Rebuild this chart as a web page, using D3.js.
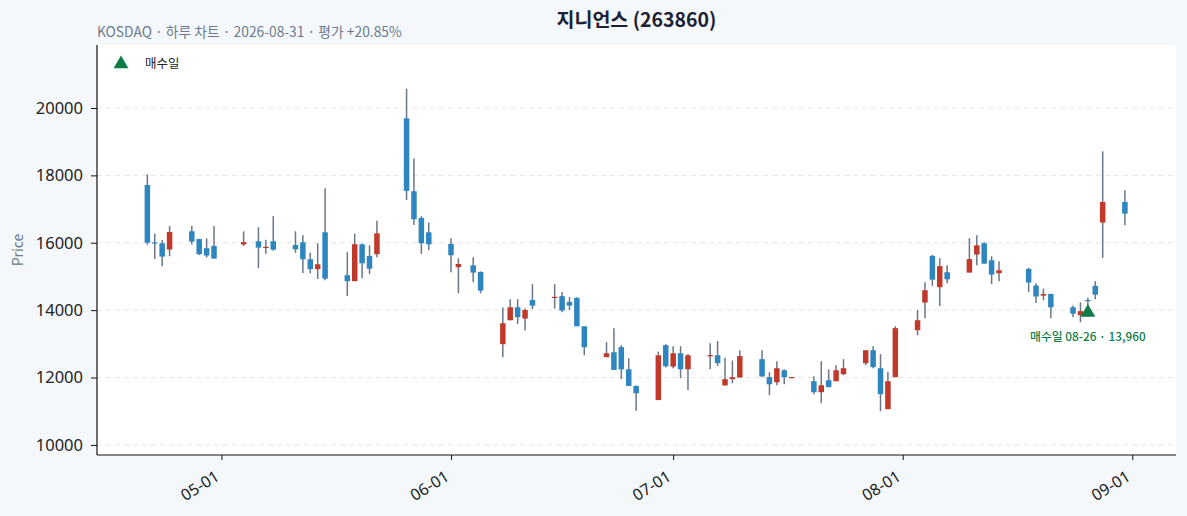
<!DOCTYPE html>
<html>
<head>
<meta charset="utf-8">
<script src="https://cdn.jsdelivr.net/npm/d3@7"></script>
<style>
  html, body { margin: 0; padding: 0; background: #f5f8fb; }
  svg { display: block; font-family: "Noto Sans CJK KR", "Noto Sans", sans-serif; }
</style>
</head>
<body>
<svg id="chart" width="1187" height="516"></svg>
<script>
// daily candles, KOSDAQ 263860
const dates = [
  "2026-04-21","2026-04-22","2026-04-23","2026-04-24","2026-04-27","2026-04-28","2026-04-29","2026-04-30",
  "2026-05-04","2026-05-06","2026-05-07","2026-05-08","2026-05-11","2026-05-12","2026-05-13","2026-05-14",
  "2026-05-15","2026-05-18","2026-05-19","2026-05-20","2026-05-21","2026-05-22","2026-05-26","2026-05-27",
  "2026-05-28","2026-05-29","2026-06-01","2026-06-02","2026-06-04","2026-06-05","2026-06-08","2026-06-09",
  "2026-06-10","2026-06-11","2026-06-12","2026-06-15","2026-06-16","2026-06-17","2026-06-18","2026-06-19",
  "2026-06-22","2026-06-23","2026-06-24","2026-06-25","2026-06-26","2026-06-29","2026-06-30","2026-07-01",
  "2026-07-02","2026-07-03","2026-07-06","2026-07-07","2026-07-08","2026-07-09","2026-07-10","2026-07-13",
  "2026-07-14","2026-07-15","2026-07-16","2026-07-17","2026-07-20","2026-07-21","2026-07-22","2026-07-23",
  "2026-07-24","2026-07-27","2026-07-28","2026-07-29","2026-07-30","2026-07-31","2026-08-03","2026-08-04",
  "2026-08-05","2026-08-06","2026-08-07","2026-08-10","2026-08-11","2026-08-12","2026-08-13","2026-08-14",
  "2026-08-18","2026-08-19","2026-08-20","2026-08-21","2026-08-24","2026-08-25","2026-08-26","2026-08-27",
  "2026-08-28","2026-08-31"
];
const open = [
  17715,16010,15985,15800,16340,16110,15840,15905, 15950,16045,15870,16045,15935,16015,15510,15215,
  16310,15035,14860,15955,15610,15660,19694,17530, 16735,16310,15965,15275,15330,15135,12990,13700,
  14085,13750,14300,14380,14415,14245,14365,13520, 12605,12750,12900,12245,11750,11330,12960,12325,
  12720,12245,12655,12660,11765,11950,12000,12545, 12010,11860,12215,12005,11890,11565,11920,11890,
  12100,12425,12810,12275,11060,12010,13405,14225, 15610,14680,15125,15115,15650,15985,15480,15095,
  15225,14730,14430,14480,14085,13850,14300,14720, 16600,17210
];
const high = [
  18030,16270,16080,16500,16500,16120,16130,16500, 16340,16460,16090,16790,16340,16220,15710,15985,
  17620,15720,16270,15975,15925,16655,20575,18500, 16790,16600,16135,15540,15570,15150,14075,14325,
  14325,14045,14770,14770,14535,14385,14385,13520, 13050,13465,12960,12575,11760,12770,12990,12930,
  12930,12700,13020,13080,12590,12505,12810,12810, 12155,12485,12245,12020,12040,12485,12245,12365,
  12545,12815,12930,12695,12160,13525,14000,14830, 15640,15540,15330,16135,16220,16015,15600,15450,
  15250,14800,14640,14490,14135,14235,14370,14860, 18715,17560
];
const low = [
  15940,15520,15300,15600,15945,15640,15560,15530, 15905,15245,15670,15765,15700,15100,15095,14925,
  14885,14420,14860,14945,15075,15570,17270,16530, 15670,15780,15125,14500,14830,14500,12600,13700,
  13590,13395,14030,14045,13940,14005,13520,12660, 12600,12220,11960,11750,11010,11330,12300,12275,
  11980,11630,12245,12345,11760,11830,12000,12025, 11475,11770,11800,12000,11505,11240,11715,11890,
  12070,12365,12275,11000,11060,12010,13255,13760, 14720,14125,14800,15115,15330,15380,14770,14860,
  14535,14210,14295,13760,13790,13640,13960,14325, 15550,16520
];
const close = [
  16000,15990,15590,16320,16035,15660,15620,15530, 16020,15855,15880,15795,15805,15510,15215,15360,
  14935,14860,15955,15390,15230,16280,17540,16700, 15985,15955,15630,15370,15115,14580,13610,14085,
  13790,14005,14135,14395,13990,14135,13520,12900, 12720,12225,12245,11750,11535,12660,12335,12720,
  12245,12660,12665,12425,11950,12010,12635,12030, 11800,12275,12010,12015,11565,11770,11715,12215,
  12275,12810,12310,11505,11890,13465,13700,14590, 14905,15305,14915,15515,15925,15380,15055,15185,
  14820,14405,14480,14085,13895,13970,14290,14460, 17210,16865
];
const yTicks = [10000, 12000, 14000, 16000, 18000, 20000];
const xTickDates = ["2026-05-01", "2026-06-01", "2026-07-01", "2026-08-01", "2026-09-01"];
const buyDate = "2026-08-26";
const buyPrice = 13960;

const parse = d3.timeParse("%Y-%m-%d");
const candles = dates.map((d, i) => ({
  date: parse(d), o: open[i], h: high[i], l: low[i], c: close[i]
}));

const W = 1187, H = 516;
const m = { top: 45, right: 11, bottom: 61, left: 97 };
const svg = d3.select("#chart");

const day = 864e5;
const first = candles[0].date, last = candles[candles.length - 1].date;
const x = d3.scaleTime()
  .domain([new Date(+first - 6.8 * day), new Date(+last + 6.9 * day)])
  .range([m.left, W - m.right]);
const y = d3.scaleLinear()
  .domain([9700, 21870])
  .range([H - m.bottom, m.top]);

// plot background
svg.append("rect")
  .attr("x", m.left).attr("y", m.top)
  .attr("width", W - m.left - m.right).attr("height", H - m.top - m.bottom)
  .attr("fill", "#fff");

// grid
svg.append("g").selectAll("line")
  .data(yTicks).join("line")
  .attr("x1", m.left).attr("x2", W - m.right)
  .attr("y1", d => y(d)).attr("y2", d => y(d))
  .attr("stroke", "#e6e6e6").attr("stroke-dasharray", "5,4").attr("stroke-width", 1);

// axes
const tickFont = '"Noto Sans", "Noto Sans CJK KR", sans-serif';
const yAxis = svg.append("g")
  .attr("transform", `translate(${m.left},0)`)
  .call(d3.axisLeft(y).tickValues(yTicks).tickFormat(d3.format("d")).tickSize(6).tickPadding(8));
const xAxis = svg.append("g")
  .attr("transform", `translate(0,${H - m.bottom})`)
  .call(d3.axisBottom(x).tickValues(xTickDates.map(parse)).tickFormat(d3.timeFormat("%m-%d")).tickSize(5).tickPadding(4));
yAxis.attr("font-family", tickFont).attr("font-size", null);
xAxis.attr("font-family", tickFont).attr("font-size", null);
yAxis.select(".domain").remove();
xAxis.select(".domain").remove();
svg.append("line")
  .attr("x1", m.left).attr("x2", m.left).attr("y1", m.top).attr("y2", H - m.bottom)
  .attr("stroke", "#111").attr("stroke-width", 1.2);
svg.append("line")
  .attr("x1", m.left).attr("x2", W - m.right).attr("y1", H - m.bottom).attr("y2", H - m.bottom)
  .attr("stroke", "#111").attr("stroke-width", 1.2);
svg.selectAll(".tick line").attr("stroke", "#111");
yAxis.selectAll("text").attr("font-size", 16.5).attr("fill", "#222");
xAxis.selectAll("text")
  .attr("font-size", 16).attr("fill", "#222")
  .attr("text-anchor", "end")
  .attr("transform", "rotate(-32)")
  .attr("dx", -14).attr("dy", 11);

// candles
const bw = 5.5;
const g = svg.append("g");
g.selectAll("line.wick")
  .data(candles).join("line").attr("class", "wick")
  .attr("x1", d => x(d.date)).attr("x2", d => x(d.date))
  .attr("y1", d => y(d.h)).attr("y2", d => y(d.l))
  .attr("stroke", "#6b7787").attr("stroke-width", 1.5);
g.selectAll("rect.body")
  .data(candles).join("rect").attr("class", "body")
  .attr("x", d => x(d.date) - bw / 2)
  .attr("width", bw)
  .attr("y", d => y(Math.max(d.o, d.c)))
  .attr("height", d => Math.max(1.2, Math.abs(y(d.o) - y(d.c))))
  .attr("fill", d => d.c >= d.o ? "#c0392b" : "#2e86c1");

// buy marker
const tri = d3.symbol().type(d3.symbolTriangle).size(95);
const bx = x(parse(buyDate)), by = y(buyPrice);
svg.append("path").attr("d", tri()).attr("transform", `translate(${bx},${by + 1})`).attr("fill", "#0e7c46");
svg.append("text")
  .attr("x", bx).attr("y", by + 30)
  .attr("text-anchor", "middle").attr("font-size", 11.8).attr("font-weight", 500)
  .attr("fill", "#0e7c46")
  .text(`매수일 08-26 · ${d3.format(",")(buyPrice)}`);

// legend
svg.append("path").attr("d", tri()).attr("transform", "translate(121,64)").attr("fill", "#0e7c46");
svg.append("text").attr("x", 145).attr("y", 68).attr("font-size", 12.5).attr("fill", "#222").text("매수일");

// title, subtitle, y label
svg.append("text")
  .attr("x", (m.left + W - m.right) / 2).attr("y", 27)
  .attr("text-anchor", "middle").attr("font-size", 19.5).attr("font-weight", 700).attr("fill", "#1b2233")
  .text("지니언스 (263860)");
svg.append("text")
  .attr("x", m.left).attr("y", 37)
  .attr("font-size", 13.8).attr("fill", "#6b7a8c")
  .text("KOSDAQ · 하루 차트 · 2026-08-31 · 평가 +20.85%");
svg.append("text")
  .attr("transform", `translate(23,${(m.top + H - m.bottom) / 2}) rotate(-90)`)
  .attr("text-anchor", "middle").attr("font-size", 14).attr("fill", "#6b7a8c")
  .text("Price");
</script>
</body>
</html>
